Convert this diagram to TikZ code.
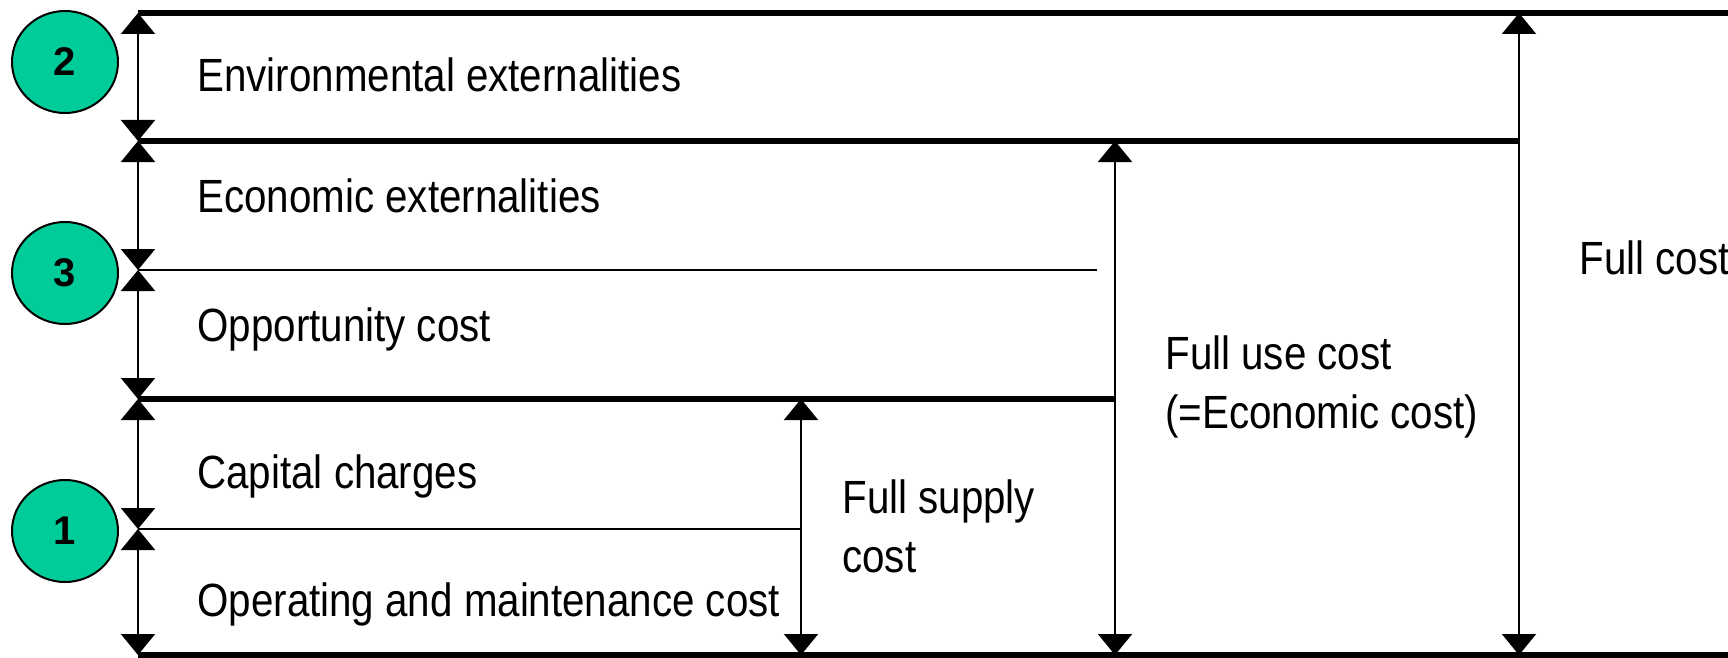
\documentclass[tikz,border=0pt]{standalone}
\usepackage{fontspec}
\setmainfont{Liberation Sans}[FakeStretch=0.865]
\newfontfamily\numfont{Liberation Sans}
\usetikzlibrary{arrows.meta,shapes.geometric}
\definecolor{badge}{RGB}{0,204,153}
\begin{document}
\begin{tikzpicture}[x=0.5pt,y=-0.5pt,
  thickrule/.style={line width=2.6pt},
  thinrule/.style={line width=1pt},
  dim/.style={line width=1pt,
    {Triangle[width=17pt,length=10.5pt]}-{Triangle[width=17pt,length=10.5pt]}},
  lbl/.style={anchor=base west,inner sep=0pt,font=\fontsize{23.3pt}{29.5pt}\selectfont,align=left},
  badgenode/.style={ellipse,draw=black,line width=1pt,fill=badge,minimum width=53pt,minimum height=51pt,inner sep=0pt,font=\numfont\bfseries\fontsize{20pt}{20pt}\selectfont}]
\useasboundingbox (0,0) rectangle (1728,658);
% levels on the left
\coordinate (a0) at (138,13);
\coordinate (a1) at (138,141);
\coordinate (a2) at (138,270);
\coordinate (a3) at (138,399);
\coordinate (a4) at (138,529);
\coordinate (a5) at (138,655);
% right ends of rules
\coordinate (r0) at (1728,13);
\coordinate (r1) at (1519,141);
\coordinate (r2) at (1097,270);
\coordinate (r3) at (1115,399);
\coordinate (r4) at (801,529);
\coordinate (r5) at (1728,655);
% dimension arrow ends
\coordinate (s3) at (801,399);
\coordinate (s5) at (801,655);
\coordinate (u5) at (1115,655);
\coordinate (u1) at (1115,141);
\coordinate (f0) at (1519,13);
\coordinate (f5) at (1519,655);
% rules
\draw[thickrule] (a0) -- (r0);
\draw[thickrule] (a1) -- (r1);
\draw[thinrule] (a2) -- (r2);
\draw[thickrule] (a3) -- (r3);
\draw[thinrule] (a4) -- (r4);
\draw[thickrule] (a5) -- (r5);
% left dimension arrows
\draw[dim] (a0) -- (a1);
\draw[dim] (a1) -- (a2);
\draw[dim] (a2) -- (a3);
\draw[dim] (a3) -- (a4);
\draw[dim] (a4) -- (a5);
% right dimension arrows
\draw[dim] (s3) -- (s5);
\draw[dim] (u1) -- (u5);
\draw[dim] (f0) -- (f5);
% labels
\node[lbl] (env) at (197,91) {Environmental externalities};
\node[lbl] (eco) at (197,212) {Economic externalities};
\node[lbl] (opp) at (197,341) {Opportunity cost};
\node[lbl] (cap) at (197,488) {Capital charges};
\node[lbl] (om) at (197,616) {Operating and maintenance cost};
\node[lbl] (fsc) at (842,572) {Full supply\\cost};
\node[lbl] (fuc) at (1165,428) {Full use cost\\(=Economic cost)};
\node[lbl] (fc) at (1579,274) {Full cost};
% badges
\node[badgenode] (b2) at (65,62) {2};
\node[badgenode] (b3) at (65,273) {3};
\node[badgenode] (b1) at (65,531) {1};
\end{tikzpicture}
\end{document}
